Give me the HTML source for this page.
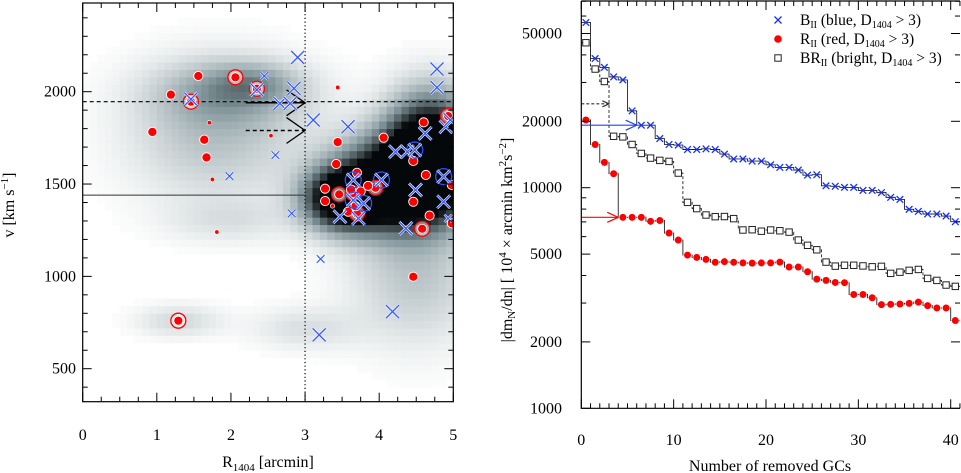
<!DOCTYPE html>
<html><head><meta charset="utf-8">
<style>
html,body{margin:0;padding:0;background:#fff;}
svg{display:block;font-family:"Liberation Serif",serif;}
</style></head>
<body>
<svg id="c" width="961" height="473" viewBox="0 0 961 473" xmlns="http://www.w3.org/2000/svg">
<defs>
<clipPath id="lclip"><rect x="82.7" y="3" width="370.6" height="398.7"/></clipPath>
<clipPath id="rclip"><rect x="581.3" y="1" width="378.7" height="407.3"/></clipPath>
</defs>
<g id="left"></g>
<g id="right"></g>
</svg>
<script>
// ---------- LEFT PANEL DATA ----------
const redR = [1.19,0.94,1.56,1.64,1.67,3.44,3.42,3.27,3.27,3.70,3.62,3.75,3.68,4.06,4.46,4.46,4.63,4.60,4.68,4.46,4.98,4.98,3.58,3.85];
const redV = [1984,1782,2085,1740,1644,1727,1608,1475,1408,1561,1470,1460,1380,1751,1625,1404,1549,1834,1329,998,1495,1287,1350,1490];
const ringR = [2.06,2.35,1.46,1.29,3.46,3.95,4.58,4.93,3.70,3.65];
const ringV = [2078,2016,1946,760,1444,1480,1258,1868,1340,1450];
const smallRedR = [1.71,1.75,1.81,2.54,3.44,3.37];
const smallRedV = [1832,1525,1240,1762,2023,1381];
const bigXR = [2.90,2.85,4.78,4.78,3.11,3.58,4.18,3.19,2.66,2.80,4.22,4.38,4.62,4.90,4.49,4.87,4.36,3.47,3.72,3.65,4.03,4.87,4.48,3.65,3.79,4.96,1.46,2.35];
const bigXV = [2186,2018,2123,2023,1847,1810,809,683,1937,1937,1675,1675,1774,1810,1468,1404,1260,1323,1314,1522,1522,1540,1684,1413,1395,1847,1960,2010];
const smallXR = [2.45,2.60,1.98,2.82,3.21,4.93];
const smallXV = [2085,1657,1543,1341,1094,1314];
const blueRingR = [3.65,4.03,4.87,4.48,3.65,3.79];
const blueRingV = [1522,1522,1540,1684,1413,1395];
const blobR = [4.3,3.5,4.7,2.0,1.8,2.3,1.3,3.0,4.5,2.0];
const blobV = [1500,1420,1700,2000,1780,2050,760,720,1000,1300];
const blobSR = [0.6,0.35,0.4,0.7,0.8,0.4,0.4,0.5,0.6,0.6];
const blobSV = [170,110,200,120,250,70,60,80,250,80];
const blobA = [1.0,0.8,0.9,0.22,0.2,0.15,0.12,0.1,0.18,0.08];
const lxTicks = [0,1,2,3,4,5];
const lyTicks = [500,1000,1500,2000];

// ---------- RIGHT PANEL DATA ----------
const blueVals = [56100,38500,35100,31800,30800,22300,19200,19200,16700,15700,15600,14900,14900,15000,14900,14200,13500,13500,13200,13200,12700,12360,12360,12030,11400,11450,10200,10150,10030,10030,9720,9720,9500,9040,8850,7980,7810,7600,7600,7440,7010];
const redVals = [20270,15700,13030,11570,7340,7340,7340,7040,7100,6230,5790,4950,4830,4730,4590,4620,4590,4560,4550,4560,4560,4600,4370,4370,4160,3850,3800,3720,3710,3280,3280,3170,2950,2960,2970,2990,3030,2920,2850,2850,2500];
const brVals = [45400,34500,30300,17100,17000,15700,14300,13620,13300,13160,11650,8580,8040,7520,7390,7400,7240,6430,6450,6350,6430,6380,6290,5790,5480,5230,4600,4410,4450,4450,4420,4380,4400,4090,4140,4220,4260,3880,3800,3620,3570];
const rxTicks = [0,10,20,30,40];
const ryTicks = [1000,2000,5000,10000,20000,50000];
const ryMinor = [3000,4000,6000,7000,8000,9000,30000,40000,60000,70000];

const NS="http://www.w3.org/2000/svg";
function mk(parent,tag,attrs,text){const e=document.createElementNS(NS,tag);for(const k in attrs)e.setAttribute(k,attrs[k]);if(text!==undefined)e.textContent=text;parent.appendChild(e);return e;}

// ---------- LEFT ----------
const L=document.getElementById('left');
const lx=r=>82.7+r*74.12, ly=v=>368.7-(v-500)*0.18467;
const hm=mk(L,'g',{'clip-path':'url(#lclip)'});


function dens(r,v){let s=0;for(let i=0;i<blobR.length;i++){s+=blobA[i]*Math.exp(-0.5*(((r-blobR[i])/blobSR[i])**2+((v-blobV[i])/blobSV[i])**2));}return s;}
function col(t){ // white -> bluish grey -> black
 const a=[255,255,255], m=[128,148,153], k=[5,8,10];
 let c; if(t<0.5){const u=t/0.5;c=a.map((x,i)=>x+(m[i]-x)*u);} else {const u=(t-0.5)/0.5;c=m.map((x,i)=>x+(k[i]-x)*u);}
 return `rgb(${c.map(Math.round).join(',')})`;}
for(let r=0;r<5.0;r+=0.1){for(let v=320;v<2480;v+=40){const d=dens(r+0.05,v+20);if(d<0.01)continue;
 const t=Math.min(1,d/0.7);
 const cell=mk(hm,'rect',{x:lx(r),y:ly(v+40),width:74.12*0.1+0.4,height:40*0.18467+0.4,fill:col(t)});
 
 
}}
const ov=mk(L,'g',{'clip-path':'url(#lclip)'});


mk(ov,'line',{x1:lx(0),x2:lx(5),y1:ly(1946),y2:ly(1946),stroke:'#000','stroke-width':1.1,'stroke-dasharray':'4,3'});
mk(ov,'line',{x1:lx(0),x2:lx(3),y1:ly(1440),y2:ly(1440),stroke:'#333','stroke-width':1});
mk(ov,'line',{x1:lx(3),x2:lx(3),y1:3,y2:401.7,stroke:'#000','stroke-width':1.2,'stroke-dasharray':'1.2,2.5'});
mk(ov,'line',{x1:lx(2.2),x2:lx(3),y1:ly(1940),y2:ly(1940),stroke:'#000','stroke-width':1.5});
mk(ov,'polyline',{points:`${lx(2.75)},${ly(2010)} ${lx(3)},${ly(1940)} ${lx(2.75)},${ly(1870)}`,fill:'none',stroke:'#000','stroke-width':1.3});
mk(ov,'line',{x1:lx(2.2),x2:lx(3),y1:ly(1790),y2:ly(1790),stroke:'#000','stroke-width':1.5,'stroke-dasharray':'4,3'});
mk(ov,'polyline',{points:`${lx(2.75)},${ly(1860)} ${lx(3)},${ly(1790)} ${lx(2.75)},${ly(1720)}`,fill:'none',stroke:'#000','stroke-width':1.3});
const pts=mk(L,'g',{'clip-path':'url(#lclip)'});


ringR.forEach((r,i)=>{const g=mk(pts,'g',{});
 
 
 mk(g,'circle',{cx:lx(r),cy:ly(ringV[i]),r:7.5,fill:'#fff',stroke:'#f00','stroke-width':1.3,'fill-opacity':0.5});
 mk(g,'circle',{cx:lx(r),cy:ly(ringV[i]),r:4.5,fill:'#f00',stroke:'#fff','stroke-width':0.8});});
redR.forEach((r,i)=>{const c=mk(pts,'circle',{cx:lx(r),cy:ly(redV[i]),r:4.6,fill:'#f00',stroke:'#fff','stroke-width':0.9});
 
 });
smallRedR.forEach((r,i)=>{const c=mk(pts,'circle',{cx:lx(r),cy:ly(smallRedV[i]),r:2.2,fill:'#f00',stroke:'#fff','stroke-width':0.6});
 
 });
blueRingR.forEach((r,i)=>{const c=mk(pts,'circle',{cx:lx(r),cy:ly(blueRingV[i]),r:8,fill:'none',stroke:'#2f50ff','stroke-width':1.3});
 
 });
function xmark(g,cx,cy,h,col,w){mk(g,'path',{d:`M${cx-h},${cy-h}L${cx+h},${cy+h}M${cx-h},${cy+h}L${cx+h},${cy-h}`,stroke:col,'stroke-width':w,fill:'none'});}
bigXR.forEach((r,i)=>{const g=mk(pts,'g',{});
 
 
 xmark(g,lx(r),ly(bigXV[i]),6.5,'#fff',2.6);xmark(g,lx(r),ly(bigXV[i]),6.5,'#3a5cff',1.4);});
smallXR.forEach((r,i)=>{const g=mk(pts,'g',{});
 
 
 xmark(g,lx(r),ly(smallXV[i]),3.8,'#fff',2.2);xmark(g,lx(r),ly(smallXV[i]),3.8,'#3a5cff',1.2);});
const lax=mk(L,'g',{});


mk(lax,'rect',{x:82.7,y:3,width:370.6,height:398.7,fill:'none',stroke:'#000','stroke-width':1.2});
for(let r=0;r<=5.001;r+=0.25){const maj=Math.abs(r-Math.round(r))<1e-6, h=maj?9:5;
 mk(lax,'line',{x1:lx(r),x2:lx(r),y1:401.7,y2:401.7-h,stroke:'#000'});mk(lax,'line',{x1:lx(r),x2:lx(r),y1:3,y2:3+h,stroke:'#000'});}
for(let v=400;v<=2400;v+=100){const maj=v%500===0,h=maj?9:5;
 mk(lax,'line',{x1:82.7,x2:82.7+h,y1:ly(v),y2:ly(v),stroke:'#000'});mk(lax,'line',{x1:453.3,x2:453.3-h,y1:ly(v),y2:ly(v),stroke:'#000'});}
lxTicks.forEach(t=>{const e=mk(lax,'text',{x:lx(t),y:440,'font-size':16,'text-anchor':'middle'},String(t));
 
 });
lyTicks.forEach(t=>{const e=mk(lax,'text',{x:76,y:ly(t)+5,'font-size':16,'text-anchor':'end'},String(t));
 
 });
const lxt=mk(lax,'text',{x:268,y:467,'font-size':16,'text-anchor':'middle'});


lxt.innerHTML='R<tspan font-size="11" dy="4">1404</tspan><tspan dy="-4"> [arcmin]</tspan>';
const lyt=mk(lax,'text',{transform:'translate(14,205) rotate(-90)','font-size':16,'text-anchor':'middle'});


lyt.innerHTML='v [km s<tspan font-size="11" dy="-6">−1</tspan><tspan dy="6">]</tspan>';

// ---------- RIGHT ----------
const R=document.getElementById('right');
const rx=n=>581.3+n*9.235, ry=v=>408.3-Math.log10(v/1000)*220.6;
const sg=mk(R,'g',{'clip-path':'url(#rclip)'});


function steps(vals,dash,name){let d='';vals.forEach((v,i)=>{d+=(i===0?'M':'L')+rx(i)+','+ry(v)+'L'+rx(i+1)+','+ry(v);});
 const p=mk(sg,'path',{d:d,fill:'none',stroke:'#222','stroke-width':0.9,'stroke-dasharray':dash});
 
 }
steps(blueVals,'none','blue-step-line');steps(redVals,'none','red-step-line');steps(brVals,'3,2','bright-step-line');
function arrow(n1,val,col,dash,hs){mk(sg,'line',{x1:rx(0),x2:rx(n1),y1:ry(val),y2:ry(val),stroke:col,'stroke-width':1.2,'stroke-dasharray':dash});
 mk(sg,'polyline',{points:`${rx(n1)-hs*2.2},${ry(val)-hs} ${rx(n1)},${ry(val)} ${rx(n1)-hs*2.2},${ry(val)+hs}`,fill:'none',stroke:col,'stroke-width':1.2});}
arrow(6,19200,'#2040ff','none',5);arrow(4,7340,'#f00','none',5);arrow(3,24000,'#333','3,2',3);
const mg=mk(R,'g',{'clip-path':'url(#rclip)'});


brVals.forEach((v,i)=>{const s=mk(mg,'rect',{x:rx(i+0.5)-3.2,y:ry(v)-3.2,width:6.4,height:6.4,fill:'#fff',stroke:'#222','stroke-width':1});
 
 });
redVals.forEach((v,i)=>{const c=mk(mg,'circle',{cx:rx(i+0.5),cy:ry(v),r:3.8,fill:'#f00',stroke:'#fff','stroke-width':0.6});
 
 });
blueVals.forEach((v,i)=>{const g=mk(mg,'g',{});
 
 
 xmark(g,rx(i+0.5),ry(v),3.3,'#1530ff',1.3);});
const rax=mk(R,'g',{});


mk(rax,'path',{d:'M581.3,1H960M581.3,1V408.3H960',fill:'none',stroke:'#000','stroke-width':1.2});
for(let n=0;n<=41;n++){const h=n%10===0?9:5;
 mk(rax,'line',{x1:rx(n),x2:rx(n),y1:408.3,y2:408.3-h,stroke:'#000'});mk(rax,'line',{x1:rx(n),x2:rx(n),y1:1,y2:1+h,stroke:'#000'});}
ryTicks.concat(ryMinor).forEach(v=>{const h=ryTicks.includes(v)?9:5;
 mk(rax,'line',{x1:581.3,x2:581.3+h,y1:ry(v),y2:ry(v),stroke:'#000'});mk(rax,'line',{x1:960,x2:960-h,y1:ry(v),y2:ry(v),stroke:'#000'});});
rxTicks.forEach(t=>{const e=mk(rax,'text',{x:rx(t),y:445,'font-size':16,'text-anchor':'middle'},String(t));
 
 });
ryTicks.forEach(t=>{const e=mk(rax,'text',{x:562,y:ry(t)+5,'font-size':16,'text-anchor':'end'},String(t));
 
 });
const rxt=mk(rax,'text',{x:770,y:471,'font-size':16,'text-anchor':'middle'},'Number of removed GCs');


const ryt=mk(rax,'text',{transform:'translate(512,240) rotate(-90)','font-size':16,'text-anchor':'middle'});


ryt.innerHTML='|dm<tspan font-size="11" dy="3">N</tspan><tspan dy="-3">/dn| [ 10</tspan><tspan font-size="11" dy="-6">4</tspan><tspan dy="6"> × arcmin km</tspan><tspan font-size="11" dy="-6">2</tspan><tspan dy="6">s</tspan><tspan font-size="11" dy="-6">−2</tspan><tspan dy="6">]</tspan>';
const lg=mk(R,'g',{});


const lgY=[20,39,58];
const lgT=['B<tspan font-size="10" dy="3">II</tspan><tspan dy="-3"> (blue, D</tspan><tspan font-size="10" dy="3">1404</tspan><tspan dy="-3"> &gt; 3)</tspan>',
 'R<tspan font-size="10" dy="3">II</tspan><tspan dy="-3"> (red, D</tspan><tspan font-size="10" dy="3">1404</tspan><tspan dy="-3"> &gt; 3)</tspan>',
 'BR<tspan font-size="10" dy="3">II</tspan><tspan dy="-3"> (bright, D</tspan><tspan font-size="10" dy="3">1404</tspan><tspan dy="-3"> &gt; 3)</tspan>'];
xmark(lg,778,lgY[0],3.5,'#1530ff',1.3);
mk(lg,'circle',{cx:778,cy:lgY[1],r:3.8,fill:'#f00'});
mk(lg,'rect',{x:774.8,y:lgY[2]-3.2,width:6.4,height:6.4,fill:'#fff',stroke:'#222'});
lgT.forEach((t,i)=>{const e=mk(lg,'text',{x:800,y:lgY[i]+5,'font-size':15.5});
 
 
 e.innerHTML=t;});
</script>
</body></html>
